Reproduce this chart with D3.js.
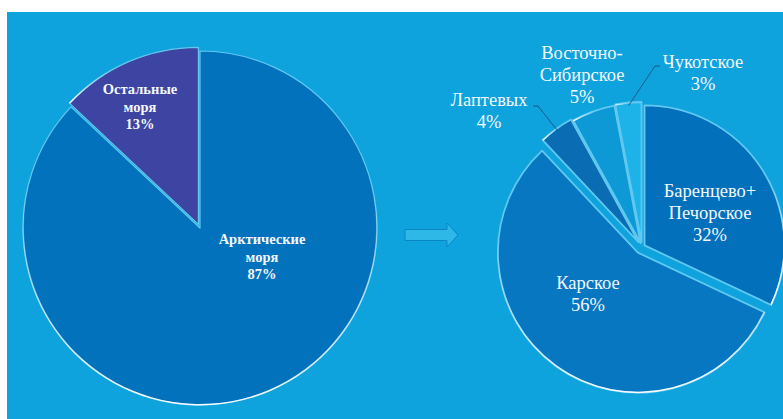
<!DOCTYPE html>
<html>
<head>
<meta charset="utf-8">
<script src="https://cdn.jsdelivr.net/npm/d3@7"></script>
<style>
  body { margin: 0; background: #fff; }
  svg { display: block; }
</style>
</head>
<body>
<svg id="chart"></svg>
<script>
// left pie: all seas
const leftNames = [["Арктические", "моря"], ["Остальные", "моря"]];
const leftValues = [87, 13];

// right pie: arctic seas breakdown
const rightNames = [["Баренцево+", "Печорское"], ["Карское"], ["Лаптевых"], ["Восточно-", "Сибирское"], ["Чукотское"]];
const rightValues = [32, 56, 4, 5, 3];

const width = 783, height = 419;
const serif = "'Liberation Serif', 'Times New Roman', 'DejaVu Serif', serif";

const leftColors = ["#0272bd", "#3d44a2"];
const rightColors = ["#0270ba", "#0677c0", "#0a6cb3", "#0c99d5", "#1db3e9"];

// layout
const leftPie = { cx: 200, cy: 228, r: 177, explode: [0, 4] };
const rightPie = { cx: 642, cy: 247, r: 140, explode: [3, 7, 6, 4, 5] };
const leftLabelPos = [[262, 244], [140, 94]];
const rightLabelPos = [[710, 197], [588, 289], [489, 106], [582, 59], [703, 68]];
const leaders = { 2: [533, 106], 4: [660, 66] };

const svg = d3.select("#chart").attr("width", width).attr("height", height);

svg.append("rect").attr("x", 7).attr("y", 12)
    .attr("width", width - 7).attr("height", height - 12)
    .attr("fill", "#0ea3dd");

const defs = svg.append("defs");
const rim = defs.append("linearGradient").attr("id", "rim")
    .attr("x1", 0).attr("y1", 0).attr("x2", 0).attr("y2", 1);
rim.append("stop").attr("offset", "0.35").attr("stop-color", "#fff").attr("stop-opacity", 0);
rim.append("stop").attr("offset", "1").attr("stop-color", "#fff").attr("stop-opacity", 0.95);

const pie = d3.pie().sort(null).value(d => d);

function drawPie(cfg, values, colors, strokeW) {
    const g = svg.append("g").attr("transform", `translate(${cfg.cx},${cfg.cy})`);
    const arc = d3.arc().innerRadius(0).outerRadius(cfg.r);
    const arcs = pie(values);

    const slice = g.selectAll("g.slice").data(arcs).enter().append("g")
        .attr("class", "slice")
        .attr("transform", (d, i) => {
            const a = (d.startAngle + d.endAngle) / 2;
            const e = cfg.explode[i];
            return `translate(${Math.sin(a) * e},${-Math.cos(a) * e})`;
        });

    slice.append("path")
        .attr("d", arc)
        .attr("fill", (d, i) => colors[i])
        .attr("stroke", "#62c8f0")
        .attr("stroke-width", strokeW)
        .attr("stroke-linejoin", "round");

    // soft light rim along the lower edge
    slice.append("path")
        .attr("d", d => d3.arc().innerRadius(cfg.r - 1).outerRadius(cfg.r + 0.5)(d))
        .attr("fill", "url(#rim)");

    return { g, arcs, arc };
}

const L = drawPie(leftPie, leftValues, leftColors, 1.2);
const R = drawPie(rightPie, rightValues, rightColors, 1.8);

// leader lines for the thin slices
Object.keys(leaders).forEach(k => {
    const i = +k;
    const d = R.arcs[i];
    const a = (d.startAngle + d.endAngle) / 2;
    const e = rightPie.explode[i];
    const rr = rightPie.r + e - 3;
    const px = rightPie.cx + Math.sin(a) * rr, py = rightPie.cy - Math.cos(a) * rr;
    const [lx, ly] = leaders[k];
    const hx = i === 2 ? lx + 5 : lx - 5;
    svg.append("path")
        .attr("d", d3.line()([[lx, ly], [hx, ly], [px, py]]))
        .attr("fill", "none")
        .attr("stroke", "#1d4f7a")
        .attr("stroke-width", 0.9);
});

function drawLabel(pos, lines, pct, size, lh, weight) {
    const t = svg.append("text")
        .attr("text-anchor", "middle")
        .attr("font-family", serif)
        .attr("font-size", size)
        .attr("font-weight", weight)
        .attr("fill", "#f4f8fc");
    lines.concat([pct + "%"]).forEach((s, j) => {
        t.append("tspan").attr("x", pos[0]).attr("y", pos[1] + j * lh).text(s);
    });
}

leftNames.forEach((n, i) => drawLabel(leftLabelPos[i], n, leftValues[i], 14.5, 17.5, "bold"));
rightNames.forEach((n, i) => drawLabel(rightLabelPos[i], n, rightValues[i], 18.5, 22, "normal"));

// arrow between the pies
const ar = { x: 405, y: 223, w: 53, h: 24, shaft: 11, head: 11 };
const mid = ar.y + ar.h / 2;
const arrow = [
    [ar.x, mid - ar.shaft / 2], [ar.x + ar.w - ar.head, mid - ar.shaft / 2],
    [ar.x + ar.w - ar.head, ar.y], [ar.x + ar.w, mid],
    [ar.x + ar.w - ar.head, ar.y + ar.h], [ar.x + ar.w - ar.head, mid + ar.shaft / 2],
    [ar.x, mid + ar.shaft / 2]
];
svg.append("path")
    .attr("d", d3.line()(arrow) + "Z")
    .attr("fill", "#2db8e8")
    .attr("stroke", "#0a86c2")
    .attr("stroke-width", 1);
</script>
</body>
</html>
